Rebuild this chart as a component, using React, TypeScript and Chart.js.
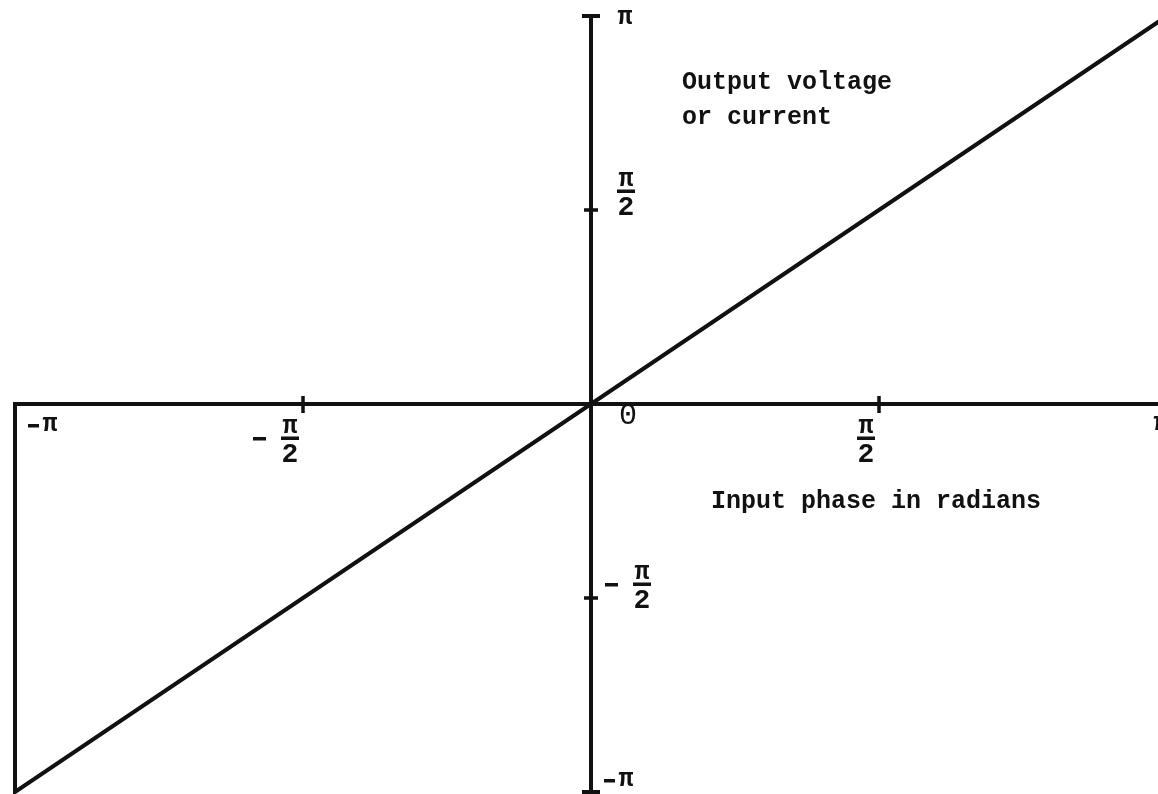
import React, { useEffect, useRef } from "react";
import { Chart, registerables } from "chart.js";

Chart.register(...registerables);

const PI = Math.PI;

// Sawtooth segment: input phase (x) vs output (y)
const inputPhase = [-PI, -PI, PI];
const outputValue = [0, -PI, PI];

const xTickValues = [-PI, -PI / 2, PI / 2, PI];
const xTickLabels = ["−π", "−π/2", "π/2", "π"];
const yTickValues = [PI, PI / 2, -PI / 2, -PI];
const yTickLabels = ["π", "π/2", "−π/2", "−π"];
const originLabel = "0";
const outputCaption = ["Output voltage", "or current"];
const inputCaption = ["Input phase in radians"];

const INK = "#111";
const TYPE_FONT = "'Liberation Mono', 'DejaVu Sans Mono', monospace";

function drawFraction(ctx: CanvasRenderingContext2D, cx: number, barY: number, negative: boolean) {
  ctx.fillStyle = INK;
  ctx.textAlign = "center";
  ctx.textBaseline = "alphabetic";
  ctx.font = `bold 25px ${TYPE_FONT}`;
  ctx.fillText("π", cx, barY - 5);
  ctx.font = `bold 28px ${TYPE_FONT}`;
  ctx.fillText("2", cx, barY + 24);
  ctx.fillRect(cx - 9, barY - 1.5, 18, 3.5);
  if (negative) {
    ctx.fillRect(cx - 37, barY - 1, 13, 3.5);
  }
}

function drawLabel(
  ctx: CanvasRenderingContext2D,
  label: string,
  cx: number,
  cy: number,
  barY: number
) {
  if (label.includes("/")) {
    drawFraction(ctx, cx, barY, label.startsWith("−"));
  } else {
    ctx.fillStyle = INK;
    ctx.textAlign = "center";
    ctx.textBaseline = "middle";
    ctx.font = `bold 25px ${TYPE_FONT}`;
    if (label.startsWith("−")) {
      const rest = label.slice(1);
      ctx.fillRect(cx - 15, cy - 1, 11, 3.5);
      ctx.fillText(rest, cx + 7, cy);
    } else {
      ctx.fillText(label, cx, cy);
    }
  }
}

const axesPlugin = {
  id: "phaseAxes",
  beforeDatasetsDraw(chart: any) {
    const { ctx, scales, width } = chart;
    const xs = scales.x;
    const ys = scales.y;
    const x0 = xs.getPixelForValue(0);
    const y0 = ys.getPixelForValue(0);
    ctx.save();
    ctx.strokeStyle = INK;
    ctx.lineWidth = 4;
    ctx.lineCap = "butt";
    // horizontal axis
    ctx.beginPath();
    ctx.moveTo(xs.getPixelForValue(-PI) - 2, y0);
    ctx.lineTo(width, y0);
    ctx.stroke();
    // vertical axis
    const yTop = ys.getPixelForValue(PI);
    const yBot = ys.getPixelForValue(-PI);
    ctx.beginPath();
    ctx.moveTo(x0, yTop);
    ctx.lineTo(x0, yBot);
    ctx.stroke();
    // caps
    ctx.beginPath();
    ctx.moveTo(x0 - 9, yTop);
    ctx.lineTo(x0 + 9, yTop);
    ctx.moveTo(x0 - 9, yBot);
    ctx.lineTo(x0 + 9, yBot);
    ctx.stroke();
    // tick marks
    ctx.lineWidth = 3.5;
    ctx.beginPath();
    xTickValues.forEach((v) => {
      if (Math.abs(v) < PI - 0.01) {
        const px = xs.getPixelForValue(v);
        ctx.moveTo(px, y0 - 8);
        ctx.lineTo(px, y0 + 9);
      }
    });
    yTickValues.forEach((v) => {
      if (Math.abs(v) < PI - 0.01) {
        const py = ys.getPixelForValue(v);
        ctx.moveTo(x0 - 7, py);
        ctx.lineTo(x0 + 7, py);
      }
    });
    ctx.stroke();
    ctx.restore();
  },
  afterDatasetsDraw(chart: any) {
    const { ctx, scales } = chart;
    const xs = scales.x;
    const ys = scales.y;
    const x0 = xs.getPixelForValue(0);
    const y0 = ys.getPixelForValue(0);
    ctx.save();
    // x tick labels
    xTickValues.forEach((v, i) => {
      const px = xs.getPixelForValue(v);
      const label = xTickLabels[i];
      if (v <= -PI + 0.01) {
        drawLabel(ctx, label, px + 28, y0 + 21, 0);
      } else if (v >= PI - 0.01) {
        drawLabel(ctx, label, px - 6, y0 + 20, 0);
      } else {
        drawLabel(ctx, label, px - 13, y0 + 20, y0 + 34);
      }
    });
    // y tick labels
    yTickValues.forEach((v, i) => {
      const py = ys.getPixelForValue(v);
      const label = yTickLabels[i];
      if (label.includes("/")) {
        const neg = label.startsWith("−");
        drawLabel(ctx, label, x0 + (neg ? 51 : 35), py, py + (neg ? -14 : -19));
      } else if (v > 0) {
        drawLabel(ctx, label, x0 + 34, py + 2, 0);
      } else {
        drawLabel(ctx, label, x0 + 28, py - 12, 0);
      }
    });
    // origin label
    ctx.fillStyle = INK;
    ctx.font = `30px ${TYPE_FONT}`;
    ctx.textAlign = "center";
    ctx.textBaseline = "middle";
    ctx.fillText(originLabel, x0 + 37, y0 + 12);
    // captions
    ctx.textAlign = "left";
    ctx.textBaseline = "alphabetic";
    ctx.font = `bold 25px ${TYPE_FONT}`;
    outputCaption.forEach((line, i) => {
      ctx.fillText(line, x0 + 91, 89 + i * 35);
    });
    inputCaption.forEach((line, i) => {
      ctx.fillText(line, x0 + 120, y0 + 104 + i * 35);
    });
    ctx.restore();
  },
};

export default function App() {
  const canvasRef = useRef<HTMLCanvasElement | null>(null);

  useEffect(() => {
    const canvas = canvasRef.current;
    if (!canvas) return;
    const chart = new Chart(canvas, {
      type: "line",
      data: {
        datasets: [
          {
            data: inputPhase.map((x, i) => ({ x, y: outputValue[i] })),
            borderColor: INK,
            borderWidth: 4,
            pointRadius: 0,
            fill: false,
            tension: 0,
            clip: false as any,
            borderJoinStyle: "miter",
          },
        ],
      },
      options: {
        responsive: false,
        maintainAspectRatio: false,
        animation: false,
        devicePixelRatio: 1,
        layout: { padding: { left: 15, right: 33, top: 16, bottom: 2 } },
        scales: {
          x: { type: "linear", display: false, min: -PI, max: PI },
          y: { type: "linear", display: false, min: -PI, max: PI },
        },
        plugins: {
          legend: { display: false },
          tooltip: { enabled: false },
        },
      },
      plugins: [axesPlugin],
    });
    return () => chart.destroy();
  }, []);

  return (
    <div
      style={{
        position: "fixed",
        left: 0,
        top: 0,
        width: 1158,
        height: 794,
        overflow: "hidden",
        background: "#fff",
      }}
    >
      <canvas ref={canvasRef} width={1200} height={794} style={{ display: "block" }} />
    </div>
  );
}
